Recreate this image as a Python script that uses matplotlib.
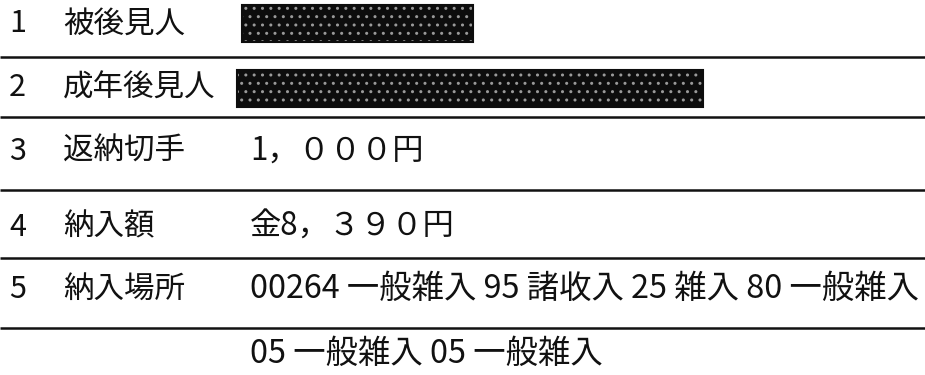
import matplotlib
matplotlib.use("Agg")
import matplotlib.pyplot as plt
from matplotlib.patches import Rectangle

plt.rcParams['font.family'] = ['Noto Sans CJK JP', 'DejaVu Sans']
plt.rcParams['hatch.linewidth'] = 1.0

# document content
row_numbers = ["1", "2", "3", "4", "5", ""]
row_labels = ["被後見人", "成年後見人", "返納切手", "納入額", "納入場所", ""]
row_values = ["", "", "1，０００円", "金8，３９０円",
              "00264 一般雑入 95 諸收入 25 雑入 80 一般雑入",
              "05 一般雑入 05 一般雑入"]

# layout (pixels, top-left origin)
row_y = [24, 88, 151, 227, 289, 354]
rule_y = [57, 117, 190, 258, 328]
redact_boxes = [(242, 5, 231, 37), (237, 70, 466, 37)]

fig = plt.figure(figsize=(9.25, 3.75), dpi=100)
ax = fig.add_axes([0, 0, 1, 1])
ax.set_xlim(0, 925)
ax.set_ylim(375, 0)
ax.axis('off')

for y in rule_y:
    ax.plot([0, 925], [y, y], color='#111111', lw=1.8, solid_capstyle='butt')

for i, (num, lab, val, y) in enumerate(zip(row_numbers, row_labels, row_values, row_y)):
    ax.text(9, y, num, fontsize=22, va='center', ha='left', color='#111111')
    ax.text(63, y, lab, fontsize=22, va='center', ha='left', color='#111111')
    if val:
        fs = 22.5 if i < 4 else 23.3
        ax.text(250, y, val, fontsize=fs, va='center', ha='left', color='#111111')

for (x, y, w, h) in redact_boxes:
    ax.add_patch(Rectangle((x, y), w, h, facecolor='#0d0d0d',
                           edgecolor='#9a9a9a', hatch='..', lw=0))
    ax.add_patch(Rectangle((x, y), w, h, facecolor='none',
                           edgecolor='#0d0d0d', lw=1.5))

fig.savefig("out.png", dpi=100)
